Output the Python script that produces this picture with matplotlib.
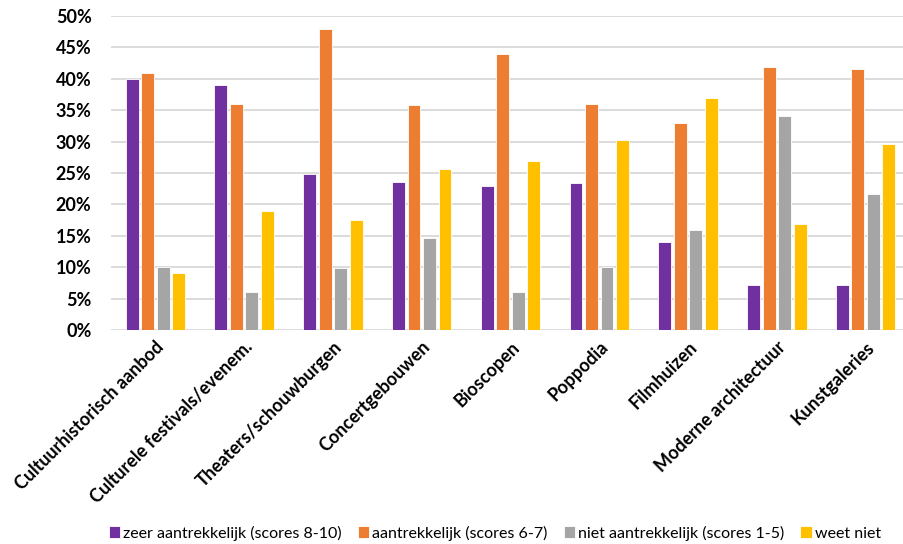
import numpy as np
import matplotlib.pyplot as plt
from matplotlib.ticker import FuncFormatter

categorieen = ['Cultuurhistorisch aanbod', 'Culturele festivals/evenem.',
               'Theaters/schouwburgen', 'Concertgebouwen', 'Bioscopen',
               'Poppodia', 'Filmhuizen', 'Moderne architectuur', 'Kunstgaleries']
zeer_aantrekkelijk = [40.0, 39.0, 24.9, 23.6, 22.9, 23.4, 14.0, 7.1, 7.1]
aantrekkelijk = [41.0, 36.0, 47.9, 35.8, 43.9, 36.0, 33.0, 41.9, 41.5]
niet_aantrekkelijk = [10.0, 6.0, 9.8, 14.7, 6.0, 10.0, 15.9, 34.0, 21.7]
weet_niet = [9.0, 18.9, 17.5, 25.6, 26.9, 30.3, 37.0, 16.9, 29.6]

reeksen = [
    ('zeer aantrekkelijk (scores 8-10)', zeer_aantrekkelijk, '#7030A0'),
    ('aantrekkelijk (scores 6-7)', aantrekkelijk, '#ED7D31'),
    ('niet aantrekkelijk (scores 1-5)', niet_aantrekkelijk, '#A5A5A5'),
    ('weet niet', weet_niet, '#FFC000'),
]

plt.rcParams['font.family'] = ['Lato', 'DejaVu Sans']

fig = plt.figure(figsize=(9.04, 5.44), dpi=100)
# axes loopt iets voorbij de rechterrand, net als in het origineel
ax = fig.add_axes([111 / 904, 1 - 330 / 544, 799 / 904, 314 / 544])

x = np.arange(len(categorieen))
stap = 0.175
breedte = 0.145
for i, (naam, waarden, kleur) in enumerate(reeksen):
    ax.bar(x + (i - 1.5) * stap, waarden, breedte, color=kleur, label=naam,
           edgecolor='white', linewidth=0.6, zorder=3)

ax.set_xlim(-0.5, len(categorieen) - 0.5)
ax.set_ylim(0, 50)
ax.set_yticks(np.arange(0, 51, 5))
ax.yaxis.set_major_formatter(FuncFormatter(lambda v, p: f'{v:.0f}%'))
ax.grid(axis='y', color='#d9d9d9', linewidth=1.3, zorder=0)
for s in ax.spines.values():
    s.set_visible(False)
ax.tick_params(axis='both', length=0)
ax.tick_params(axis='y', pad=14, labelsize=13)
ax.tick_params(axis='x', pad=6)
ax.set_xticks(x)
ax.set_xticklabels(categorieen, rotation=45, ha='right', rotation_mode='anchor',
                   fontsize=13, fontweight='bold')
for t in ax.get_yticklabels():
    t.set_fontweight('bold')

ax.legend(loc='center', bbox_to_anchor=(495 / 904, 11 / 544),
          bbox_transform=fig.transFigure, ncol=4, frameon=False,
          fontsize=11.5, handlelength=0.7, handleheight=0.7,
          handletextpad=0.2, columnspacing=1.0)

fig.savefig('out.png', dpi=100)
